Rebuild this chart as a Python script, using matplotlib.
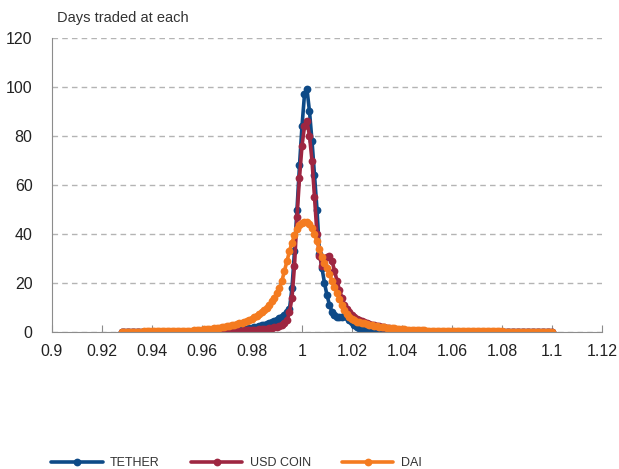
import numpy as np
import matplotlib
matplotlib.use("Agg")
import matplotlib.pyplot as plt

# price grid: one point per 0.001 from 0.928 to 1.100
price = np.round(np.arange(928, 1101) / 1000, 3)

# days traded at each price
tether = [
    0, 0, 0, 0, 0, 0, 0, 0, 0, 0, 0, 0, 0, 0, 0, 0, 0, 0, 0, 0, 0, 0, 0,      # 0.928-0.950
    0, 0, 0, 0, 0, 0, 0, 0, 0, 0,                                             # 0.951-0.960
    0.1, 0.1, 0.2, 0.2, 0.3, 0.3, 0.4, 0.4, 0.5, 0.5,                         # 0.961-0.970
    0.6, 0.7, 0.8, 0.9, 1.0, 1.1, 1.2, 1.4, 1.6, 1.8,                         # 0.971-0.980
    2.0, 2.2, 2.4, 2.7, 3.0, 3.3, 3.7, 4.1, 4.5, 5.0,                         # 0.981-0.990
    5.6, 6.3, 7.0, 8.0, 9.5, 18, 33, 50, 68, 84,                              # 0.991-1.000
    97, 99, 90, 78, 64, 50, 32, 26, 20, 15,                                   # 1.001-1.010
    11, 8.3, 7.0, 6.2, 6.0, 6.3, 6.5, 6.0, 5.0, 4.0,                          # 1.011-1.020
    2.8, 2.0, 1.5, 1.2, 1.0, 0.8, 0.7, 0.6, 0.5, 0.4,                         # 1.021-1.030
    0.3, 0.3, 0.3, 0.2, 0.2, 0.2, 0.2, 0.1, 0.1, 0.1,                         # 1.031-1.040
    0.1, 0.1, 0.1, 0.1, 0.1, 0, 0, 0, 0, 0,                                   # 1.041-1.050
    0, 0, 0, 0, 0, 0, 0, 0, 0, 0,                                             # 1.051-1.060
    0, 0, 0, 0, 0, 0, 0, 0, 0, 0, 0, 0, 0, 0, 0, 0, 0, 0, 0, 0,               # 1.061-1.080
    0, 0, 0, 0, 0, 0, 0, 0, 0, 0, 0, 0, 0, 0, 0, 0, 0, 0, 0, 0,               # 1.081-1.100
]
usd_coin = [
    0, 0, 0, 0, 0, 0, 0, 0, 0, 0, 0, 0, 0, 0, 0, 0, 0, 0, 0, 0, 0, 0, 0,
    0, 0, 0, 0, 0, 0, 0, 0, 0, 0,
    0.1, 0.2, 0.3, 0.4, 0.5, 0.5, 0.6, 0.6, 0.6, 0.6,
    0.6, 0.6, 0.6, 0.6, 0.6, 0.6, 0.7, 0.7, 0.8, 0.9,
    1.0, 1.0, 1.1, 1.2, 1.3, 1.4, 1.5, 1.7, 1.9, 2.1,
    2.4, 2.8, 3.5, 4.8, 8.0, 14, 27, 47, 63, 76,
    84, 86, 80, 70, 55, 40, 31, 27, 27.5, 30.5,
    31, 29, 25, 21, 17, 14, 11, 9.5, 8.0, 6.8,
    6.0, 5.3, 4.8, 4.3, 3.9, 3.5, 3.2, 3.0, 2.8, 2.6,
    2.4, 2.2, 2.0, 1.8, 1.6, 1.4, 1.2, 1.0, 0.9, 0.8,
    0.7, 0.6, 0.5, 0.5, 0.4, 0.4, 0.3, 0.3, 0.2, 0.2,
    0.1, 0.1, 0.1, 0.1, 0.1, 0, 0, 0, 0, 0,
    0, 0, 0, 0, 0, 0, 0, 0, 0, 0, 0, 0, 0, 0, 0, 0, 0, 0, 0, 0,
    0, 0, 0, 0, 0, 0, 0, 0, 0, 0, 0, 0, 0, 0, 0, 0, 0, 0, 0, 0,
]
dai = [
    0.2, 0.2, 0.2, 0.2, 0.2, 0.2, 0.2, 0.2, 0.2, 0.3, 0.3, 0.3, 0.3, 0.3, 0.3, 0.3,
    0.3, 0.3, 0.4, 0.4, 0.4, 0.4, 0.4,
    0.4, 0.5, 0.5, 0.5, 0.6, 0.6, 0.7, 0.8, 0.9, 1.0,
    1.1, 1.2, 1.3, 1.4, 1.5, 1.6, 1.8, 2.0, 2.2, 2.4,
    2.6, 2.8, 3.0, 3.2, 3.5, 3.8, 4.2, 4.6, 5.0, 5.5,
    6.0, 6.6, 7.2, 8.0, 9.0, 10.0, 11.2, 12.5, 14.0, 16.0,
    18.0, 21.0, 25.0, 29.0, 33.0, 36.5, 39.5, 42.0, 43.5, 44.5,
    45.0, 44.8, 44.0, 42.5, 40.0, 37.0, 34.0, 30.5, 28.0, 26.0,
    23.5, 21.0, 18.5, 16.0, 13.5, 11.0, 9.0, 7.5, 6.3, 5.3,
    4.7, 4.2, 3.9, 3.7, 3.5, 3.3, 3.0, 2.8, 2.6, 2.4,
    2.2, 2.0, 1.9, 1.8, 1.7, 1.6, 1.5, 1.4, 1.3, 1.2,
    1.1, 1.0, 1.0, 0.9, 0.9, 0.8, 0.8, 0.7, 0.7, 0.6,
    0.6, 0.6, 0.5, 0.5, 0.5, 0.5, 0.4, 0.4, 0.4, 0.4,
    0.3, 0.3, 0.3, 0.3, 0.3, 0.3, 0.3, 0.3, 0.3, 0.3,
    0.3, 0.3, 0.3, 0.3, 0.3, 0.3, 0.3, 0.3, 0.3, 0.3,
    0.2, 0.2, 0.2, 0.2, 0.2, 0.2, 0.2, 0.2, 0.2, 0.2,
    0.2, 0.2, 0.2, 0.2, 0.2, 0.2, 0.2, 0.2, 0.2, 0.2,
]

series_names = ["TETHER", "USD COIN", "DAI"]
series_colors = ["#0e4a87", "#9e2641", "#f47b20"]

plt.rcParams["font.family"] = ["Liberation Sans", "DejaVu Sans"]

fig = plt.figure(figsize=(6.19, 4.69), dpi=100)
ax = fig.add_axes([52 / 619, 1 - 332 / 469, 550 / 619, 294 / 469])

for vals, name, col in zip([tether, usd_coin, dai], series_names, series_colors):
    ax.plot(price, vals, color=col, lw=2.6, marker="o", ms=5.6,
            markeredgewidth=0, label=name, solid_capstyle="round")

ax.set_xlim(0.9, 1.12)
ax.set_ylim(0, 120)
ax.set_xticks(np.arange(0.90, 1.121, 0.02))
ax.set_xticklabels(["0.9", "0.92", "0.94", "0.96", "0.98", "1", "1.02", "1.04",
                    "1.06", "1.08", "1.1", "1.12"])
ax.set_yticks(range(0, 121, 20))

ax.grid(axis="y", color="#b4b4b4", linestyle=(0, (4, 3)), linewidth=1)
ax.set_axisbelow(True)
for s in ["top", "right"]:
    ax.spines[s].set_visible(False)
ax.spines["left"].set_color("#8c8c8c")
ax.spines["bottom"].set_color("#8c8c8c")
ax.tick_params(axis="y", length=0, pad=14, labelsize=11.5, labelcolor="#222222")
ax.tick_params(axis="x", direction="in", length=5, color="#8c8c8c", pad=9,
               labelsize=11.5, labelcolor="#222222")

fig.text(57 / 619, 1 - 18 / 469, "Days traded at each", fontsize=10.5,
         color="#333333", va="center", ha="left")

fig.legend(loc="center left", bbox_to_anchor=(40 / 619, 1 - 463 / 469), ncol=3,
           frameon=False, handlelength=4.1, handletextpad=0.6, columnspacing=2.5,
           prop={"size": 9}, labelcolor="#333333")

fig.savefig("out.png", dpi=100)
